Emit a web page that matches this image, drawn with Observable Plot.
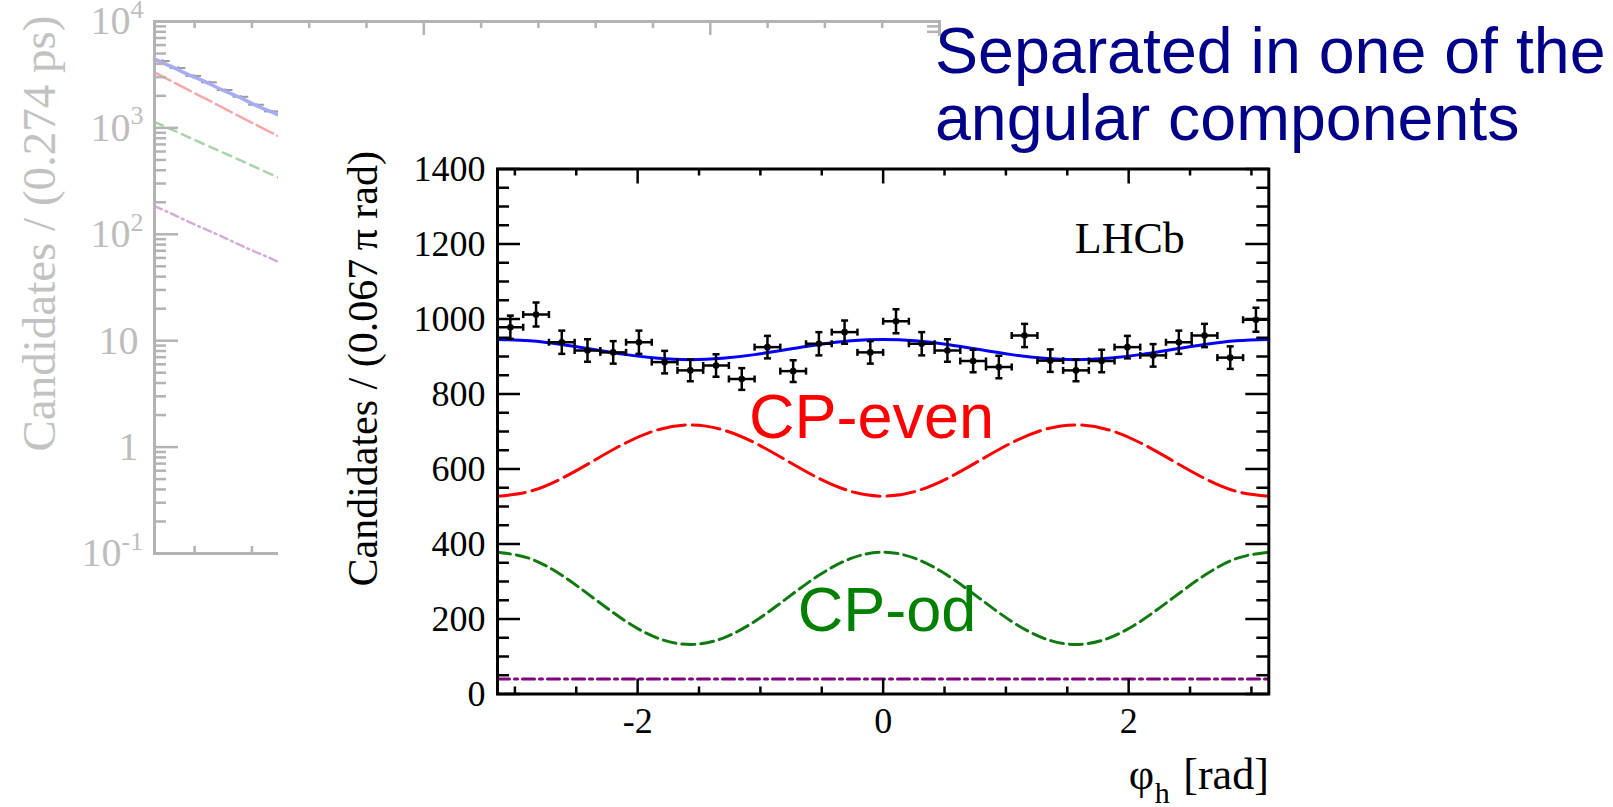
<!DOCTYPE html>
<html>
<head>
<meta charset="utf-8">
<script src="https://cdn.jsdelivr.net/npm/d3@7"></script>
<script src="https://cdn.jsdelivr.net/npm/@observablehq/plot@0.6"></script>
<style>
  html, body { margin: 0; padding: 0; background: #fff; }
  body { position: relative; width: 1613px; height: 807px; overflow: hidden; }
  #decay { position: absolute; left: 0; top: 0; z-index: 0; }
  #angle { position: absolute; left: 278px; top: 36px; z-index: 1; }
  #title {
    position: absolute; left: 935px; top: 18px; z-index: 2;
    font-family: "Liberation Sans", Arial, sans-serif;
    font-size: 64.5px; line-height: 67px; color: #000088; white-space: nowrap;
  }
</style>
</head>
<body>
<div id="decay"></div>
<div id="angle"></div>
<div id="title">Separated in one of the<br>angular components</div>
<script>
// ---------- decay-time distribution (log scale, faded) ----------
const tGrid      = [0.3, 0.6, 0.9, 1.2, 1.5, 1.8, 2.1, 2.4, 2.6];
const decayTotal = [4440, 3760, 3150, 2690, 2250, 1920, 1600, 1370, 1220];
const decayEven  = [3320, 2740, 2260, 1870, 1540, 1270, 1050, 870, 760];
const decayOdd   = [1140, 965, 815, 690, 585, 495, 418, 354, 316];
const decayBkg   = [184, 156, 131, 111, 94, 79, 67, 57, 50];

const tBinWidth   = 0.274;
const decayCounts = [4250, 3650, 3080, 2680, 2270, 1960, 1650, 1430];
const decayErrors = [65, 60, 56, 52, 48, 44, 41, 38];

const decadeTicks = [0.1, 1, 10, 100, 1000, 10000];
const decadeBase  = ["10", "1", "10", "10", "10", "10"];
const decadeExp   = ["-1", "", "", "2", "3", "4"];
const decayYLabel = "Candidates / (0.274 ps)";

// ---------- helicity-angle distribution ----------
const phiGrid = d3.range(25).map(i => -Math.PI + i * Math.PI / 12);
const fitTotal = [945.5, 941.9, 932.0, 918.5, 905.0, 895.1, 891.5, 895.1, 905.0, 918.5, 932.0, 941.9,
                  945.5, 941.9, 932.0, 918.5, 905.0, 895.1, 891.5, 895.1, 905.0, 918.5, 932.0, 941.9, 945.5];
const fitEven  = [527.5, 540.2, 575.0, 622.5, 670.0, 704.8, 717.5, 704.8, 670.0, 622.5, 575.0, 540.2,
                  527.5, 540.2, 575.0, 622.5, 670.0, 704.8, 717.5, 704.8, 670.0, 622.5, 575.0, 540.2, 527.5];
const fitOdd   = [378.0, 361.5, 316.5, 255.0, 193.5, 148.5, 132.0, 148.5, 193.5, 255.0, 316.5, 361.5,
                  378.0, 361.5, 316.5, 255.0, 193.5, 148.5, 132.0, 148.5, 193.5, 255.0, 316.5, 361.5, 378.0];
const fitBkg   = [40, 40, 40, 40, 40, 40, 40, 40, 40, 40, 40, 40, 40,
                  40, 40, 40, 40, 40, 40, 40, 40, 40, 40, 40, 40];

const phiBinWidth = 2 * Math.PI / 30;
const phiCounts = [978, 1012, 938, 916, 911, 938, 885, 863, 876, 840, 925, 861, 934, 965, 911,
                   994, 934, 916, 888, 872, 956, 889, 863, 888, 925, 903, 938, 956, 897, 998];
const phiErrors = [31, 32, 31, 30, 30, 31, 30, 29, 30, 29, 30, 29, 31, 31, 30,
                   32, 31, 30, 30, 30, 31, 30, 29, 30, 30, 30, 31, 31, 30, 32];

const phiYTicksMajor = [0, 200, 400, 600, 800, 1000, 1200, 1400];
const phiXTicksMajor = [-2, 0, 2];
const phiYLabel = "Candidates / (0.067\u2009\u03c0 rad)";

// short cap symbols for error-bar ends
const capH = {draw(ctx, size) { const r = Math.sqrt(size / Math.PI); ctx.moveTo(-r, 0); ctx.lineTo(r, 0); }};
const capV = {draw(ctx, size) { const r = Math.sqrt(size / Math.PI); ctx.moveTo(0, -r); ctx.lineTo(0, r); }};

const serif = "'Liberation Serif', 'Times New Roman', serif";
const sans = "'Liberation Sans', Arial, sans-serif";

// ===== decay plot =====
{
  const W = 1000, H = 807, mL = 154, mR = 61, mT = 21, mB = 254;
  const fw = W - mL - mR, fh = H - mT - mB;
  const grey = "#b3b3b3", greyText = "#bdbdbd";
  const curve = (vals) => tGrid.map((t, i) => ({t, v: vals[i]}));
  const pts = decayCounts.map((v, k) => ({t: 0.3 + (k + 0.5) * tBinWidth, v, e: decayErrors[k]}));
  const minor = [];
  for (const d of [0.1, 1, 10, 100, 1000]) for (let m = 2; m <= 9; m++) minor.push(d * m);
  const xMinor = d3.range(1, 15).filter(t => t % 5 !== 0);
  const xMajor = [5, 10];
  const decades = decadeTicks.map((v, i) => ({v, base: decadeBase[i], exp: decadeExp[i]}));
  const shortExp = decades.filter(d => d.exp.length === 1);
  const longExp = decades.filter(d => d.exp.length === 2);
  const noExp = decades.filter(d => d.exp === "");

  const plot = Plot.plot({
    width: W, height: H, marginLeft: mL, marginRight: mR, marginTop: mT, marginBottom: mB,
    x: {domain: [0.3, 14], axis: null},
    y: {type: "log", domain: [0.1, 10000], axis: null},
    style: {background: "transparent", color: greyText, fontFamily: serif, fontSize: "40px", overflow: "visible"},
    marks: [
      Plot.line(curve(decayBkg), {x: "t", y: "v", stroke: "#d3aedb", strokeWidth: 2.5, strokeDasharray: "8,4,2,4", curve: "natural"}),
      Plot.line(curve(decayOdd), {x: "t", y: "v", stroke: "#a9d3a9", strokeWidth: 2.5, strokeDasharray: "9,6", curve: "natural"}),
      Plot.line(curve(decayEven), {x: "t", y: "v", stroke: "#f6a8a8", strokeWidth: 2.5, strokeDasharray: "18,5", curve: "natural"}),
      Plot.ruleY(pts, {y: "v", x1: d => d.t - tBinWidth / 2, x2: d => d.t + tBinWidth / 2, stroke: "#9a9a9a", strokeWidth: 2}),
      Plot.ruleX(pts, {x: "t", y1: d => d.v - d.e, y2: d => d.v + d.e, stroke: "#9a9a9a", strokeWidth: 2, inset: -2}),
      Plot.line(curve(decayTotal), {x: "t", y: "v", stroke: "#a8adf3", strokeWidth: 3.5, curve: "natural"}),
      // inward ticks on all four sides
      Plot.tickY(decadeTicks, {y: d => d, insetRight: fw - 24, stroke: grey, strokeWidth: 2.5}),
      Plot.tickY(minor, {y: d => d, insetRight: fw - 12, stroke: grey, strokeWidth: 2.5}),
      Plot.tickY(decadeTicks, {y: d => d, insetLeft: fw - 24, stroke: grey, strokeWidth: 2.5}),
      Plot.tickY(minor, {y: d => d, insetLeft: fw - 12, stroke: grey, strokeWidth: 2.5}),
      Plot.tickX(xMajor, {x: d => d, insetBottom: fh - 14, stroke: grey, strokeWidth: 2.5}),
      Plot.tickX(xMinor, {x: d => d, insetBottom: fh - 7, stroke: grey, strokeWidth: 2.5}),
      Plot.tickX(xMajor, {x: d => d, insetTop: fh - 14, stroke: grey, strokeWidth: 2.5}),
      Plot.tickX(xMinor, {x: d => d, insetTop: fh - 7, stroke: grey, strokeWidth: 2.5}),
      Plot.frame({stroke: grey, strokeWidth: 3}),
      // decade labels with raised exponents, right-aligned as a whole
      Plot.text(shortExp, {y: "v", text: "base", frameAnchor: "left", textAnchor: "end", lineAnchor: "middle", dx: -24, fill: greyText, fontSize: 40}),
      Plot.text(shortExp, {y: "v", text: "exp", frameAnchor: "left", textAnchor: "start", lineAnchor: "middle", dx: -24, dy: -12, fill: greyText, fontSize: 26}),
      Plot.text(longExp, {y: "v", text: "base", frameAnchor: "left", textAnchor: "end", lineAnchor: "middle", dx: -33, fill: greyText, fontSize: 40}),
      Plot.text(longExp, {y: "v", text: "exp", frameAnchor: "left", textAnchor: "start", lineAnchor: "middle", dx: -33, dy: -12, fill: greyText, fontSize: 26}),
      Plot.text(noExp, {y: "v", text: "base", frameAnchor: "left", textAnchor: "end", lineAnchor: "middle", dx: -16, fill: greyText, fontSize: 40}),
      // axis title
      Plot.text([decayYLabel], {text: d => d, frameAnchor: "top-left", rotate: -90, textAnchor: "end", lineAnchor: "middle",
        dx: -115, dy: -6, fill: "#c2c2c2", fontSize: 47})
    ]
  });
  document.getElementById("decay").appendChild(plot);
}

// ===== helicity-angle plot =====
{
  const W = 1335, H = 771, mL = 219, mR = 344.7, mT = 132.5, mB = 113.5;
  const fw = W - mL - mR, fh = H - mT - mB;
  const curve = (vals) => phiGrid.map((x, i) => ({x, v: vals[i]}));
  const pts = phiCounts.map((v, i) => ({x: -Math.PI + (i + 0.5) * phiBinWidth, v, e: phiErrors[i]}));
  const hw = phiBinWidth / 2;
  const yMinor = d3.range(50, 1400, 50).filter(v => v % 200 !== 0);
  const xMinor = d3.range(-3, 3.01, 0.5).filter(v => v % 2 !== 0);

  const plot = Plot.plot({
    width: W, height: H, marginLeft: mL, marginRight: mR, marginTop: mT, marginBottom: mB,
    x: {domain: [-Math.PI, Math.PI]},
    y: {domain: [0, 1400]},
    style: {background: "white", color: "black", fontFamily: serif, fontSize: "36px", overflow: "visible"},
    marks: [
      Plot.line(curve(fitBkg), {x: "x", y: "v", stroke: "#800080", strokeWidth: 3, strokeDasharray: "12,5,3,5", curve: "natural"}),
      Plot.line(curve(fitOdd), {x: "x", y: "v", stroke: "#107a10", strokeWidth: 3, strokeDasharray: "13,6", curve: "natural"}),
      Plot.line(curve(fitEven), {x: "x", y: "v", stroke: "#ff0000", strokeWidth: 3, strokeDasharray: "28,7", curve: "natural"}),
      Plot.line(curve(fitTotal), {x: "x", y: "v", stroke: "#0000ff", strokeWidth: 3, curve: "natural"}),
      // data with error bars
      Plot.ruleY(pts, {y: "v", x1: d => d.x - hw, x2: d => d.x + hw, stroke: "black", strokeWidth: 2.5}),
      Plot.ruleX(pts, {x: "x", y1: d => d.v - d.e, y2: d => d.v + d.e, stroke: "black", strokeWidth: 2.5}),
      Plot.dot(pts, {x: "x", y: d => d.v + d.e, symbol: capH, r: 3.5, fill: "none", stroke: "black", strokeWidth: 2.5}),
      Plot.dot(pts, {x: "x", y: d => d.v - d.e, symbol: capH, r: 3.5, fill: "none", stroke: "black", strokeWidth: 2.5}),
      Plot.dot(pts, {x: d => d.x - hw, y: "v", symbol: capV, r: 3.5, fill: "none", stroke: "black", strokeWidth: 2.5}),
      Plot.dot(pts, {x: d => d.x + hw, y: "v", symbol: capV, r: 3.5, fill: "none", stroke: "black", strokeWidth: 2.5}),
      Plot.dot(pts, {x: "x", y: "v", r: 3.3, fill: "black"}),
      // inward ticks
      Plot.tickY(phiYTicksMajor, {y: d => d, insetRight: fw - 23, stroke: "black", strokeWidth: 2.5}),
      Plot.tickY(yMinor, {y: d => d, insetRight: fw - 12, stroke: "black", strokeWidth: 2.5}),
      Plot.tickY(phiYTicksMajor, {y: d => d, insetLeft: fw - 23, stroke: "black", strokeWidth: 2.5}),
      Plot.tickY(yMinor, {y: d => d, insetLeft: fw - 12, stroke: "black", strokeWidth: 2.5}),
      Plot.tickX(phiXTicksMajor, {x: d => d, insetTop: fh - 15, stroke: "black", strokeWidth: 2.5}),
      Plot.tickX(xMinor, {x: d => d, insetTop: fh - 7, stroke: "black", strokeWidth: 2.5}),
      Plot.tickX(phiXTicksMajor, {x: d => d, insetBottom: fh - 15, stroke: "black", strokeWidth: 2.5}),
      Plot.tickX(xMinor, {x: d => d, insetBottom: fh - 7, stroke: "black", strokeWidth: 2.5}),
      Plot.frame({stroke: "black", strokeWidth: 3}),
      // tick labels
      Plot.axisY(phiYTicksMajor, {tickSize: 0, tickPadding: 12, tickFormat: d => String(d), label: null, fontSize: 36}),
      Plot.axisX(phiXTicksMajor, {tickSize: 0, tickPadding: 13, tickFormat: d => String(d), label: null, fontSize: 36}),
      // axis titles
      Plot.text([phiYLabel], {text: d => d, frameAnchor: "top-left", rotate: -90, textAnchor: "end", lineAnchor: "middle",
        dx: -134, dy: -18, fontSize: 42}),
      Plot.text(["[rad]"], {text: d => d, frameAnchor: "bottom-right", textAnchor: "end", lineAnchor: "bottom", dy: 95, fontSize: 44}),
      Plot.text(["\u03c6"], {text: d => d, frameAnchor: "bottom-right", textAnchor: "start", lineAnchor: "bottom", dx: -140, dy: 95, fontSize: 44}),
      Plot.text(["h"], {text: d => d, frameAnchor: "bottom-right", textAnchor: "start", lineAnchor: "bottom", dx: -114, dy: 109, fontSize: 30}),
      // annotations
      Plot.text(["LHCb"], {x: 1.561, y: 1177, text: d => d, textAnchor: "start", lineAnchor: "bottom", fontSize: 44}),
      Plot.text(["CP-even"], {x: -1.093, y: 684, text: d => d, textAnchor: "start", lineAnchor: "bottom", fill: "#ff0000", fontFamily: sans, fontSize: 63}),
      Plot.text(["CP-od"], {x: -0.695, y: 169, text: d => d, textAnchor: "start", lineAnchor: "bottom", fill: "#008000", fontFamily: sans, fontSize: 63})
    ]
  });
  document.getElementById("angle").appendChild(plot);
}
</script>
</body>
</html>
